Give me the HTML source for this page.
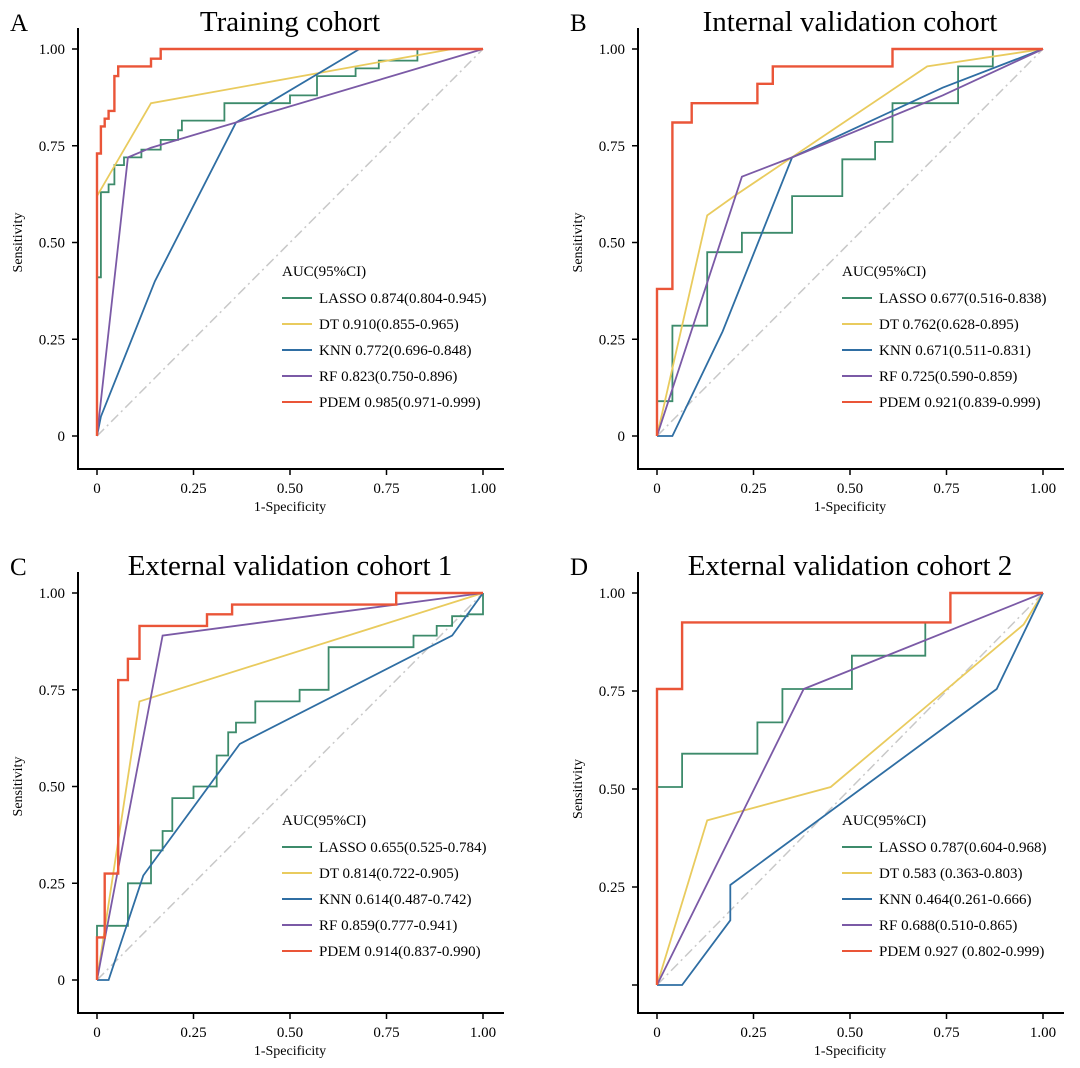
<!DOCTYPE html>
<html><head><meta charset="utf-8">
<style>
html,body{margin:0;padding:0;background:#fff;}
svg{display:block;font-family:"Liberation Serif",serif;}
</style></head>
<body>
<svg id="chart" width="1080" height="1068" viewBox="0 0 1080 1068" xmlns="http://www.w3.org/2000/svg"></svg>
<script>
const xTicks=[0,0.25,0.5,0.75,1];
const xTickLabels=["0","0.25","0.50","0.75","1.00"];
const yTicks=[0,0.25,0.5,0.75,1];
const yTickLabels=["0","0.25","0.50","0.75","1.00"];
const yTickLabelsD=["","0.25","0.50","0.75","1.00"];
const seriesNames=["LASSO","DT","KNN","RF","PDEM"];
const seriesColors=["#3d8b6b","#e9cb5e","#2f6ea3","#7b5aa6","#ea5538"];
const panelTitles=["Training cohort","Internal validation cohort","External validation cohort 1","External validation cohort 2"];
const panelLetters=["A","B","C","D"];
const legendA=["LASSO 0.874(0.804-0.945)","DT 0.910(0.855-0.965)","KNN 0.772(0.696-0.848)","RF 0.823(0.750-0.896)","PDEM 0.985(0.971-0.999)"];
const legendB=["LASSO 0.677(0.516-0.838)","DT 0.762(0.628-0.895)","KNN 0.671(0.511-0.831)","RF 0.725(0.590-0.859)","PDEM  0.921(0.839-0.999)"];
const legendC=["LASSO 0.655(0.525-0.784)","DT 0.814(0.722-0.905)","KNN 0.614(0.487-0.742)","RF 0.859(0.777-0.941)","PDEM  0.914(0.837-0.990)"];
const legendD=["LASSO 0.787(0.604-0.968)","DT 0.583 (0.363-0.803)","KNN 0.464(0.261-0.666)","RF 0.688(0.510-0.865)","PDEM  0.927 (0.802-0.999)"];

const aLASSO=[[0,0],[0,0.41],[0.01,0.41],[0.01,0.63],[0.03,0.63],[0.03,0.65],[0.045,0.65],[0.045,0.70],[0.07,0.70],[0.07,0.72],[0.115,0.72],[0.115,0.74],[0.165,0.74],[0.165,0.765],[0.21,0.765],[0.21,0.79],[0.22,0.79],[0.22,0.815],[0.33,0.815],[0.33,0.86],[0.5,0.86],[0.5,0.88],[0.57,0.88],[0.57,0.93],[0.67,0.93],[0.67,0.95],[0.73,0.95],[0.73,0.97],[0.83,0.97],[0.83,1],[1,1]];
const aDT=[[0,0],[0,0.62],[0.14,0.86],[0.92,1],[1,1]];
const aKNN=[[0,0],[0.01,0.05],[0.15,0.4],[0.36,0.81],[0.68,1],[1,1]];
const aRF=[[0,0],[0.08,0.72],[0.14,0.745],[1,1]];
const aPDEM=[[0,0],[0,0.73],[0.01,0.73],[0.01,0.8],[0.02,0.8],[0.02,0.82],[0.03,0.82],[0.03,0.84],[0.045,0.84],[0.045,0.93],[0.055,0.93],[0.055,0.955],[0.14,0.955],[0.14,0.975],[0.165,0.975],[0.165,1],[1,1]];

const bLASSO=[[0,0],[0,0.09],[0.04,0.09],[0.04,0.285],[0.13,0.285],[0.13,0.475],[0.22,0.475],[0.22,0.525],[0.35,0.525],[0.35,0.62],[0.48,0.62],[0.48,0.715],[0.565,0.715],[0.565,0.76],[0.61,0.76],[0.61,0.86],[0.78,0.86],[0.78,0.955],[0.87,0.955],[0.87,1],[1,1]];
const bDT=[[0,0],[0.13,0.57],[0.2,0.62],[0.7,0.955],[1,1]];
const bKNN=[[0,0],[0.04,0],[0.17,0.27],[0.35,0.72],[0.74,0.90],[1,1]];
const bRF=[[0,0],[0.22,0.67],[0.35,0.72],[0.74,0.88],[1,1]];
const bPDEM=[[0,0],[0,0.38],[0.04,0.38],[0.04,0.81],[0.09,0.81],[0.09,0.86],[0.26,0.86],[0.26,0.91],[0.30,0.91],[0.30,0.955],[0.61,0.955],[0.61,1],[1,1]];

const cLASSO=[[0,0],[0,0.14],[0.08,0.14],[0.08,0.25],[0.14,0.25],[0.14,0.335],[0.17,0.335],[0.17,0.385],[0.195,0.385],[0.195,0.47],[0.25,0.47],[0.25,0.5],[0.31,0.5],[0.31,0.58],[0.34,0.58],[0.34,0.64],[0.36,0.64],[0.36,0.665],[0.41,0.665],[0.41,0.72],[0.525,0.72],[0.525,0.75],[0.6,0.75],[0.6,0.86],[0.82,0.86],[0.82,0.89],[0.88,0.89],[0.88,0.915],[0.92,0.915],[0.92,0.94],[0.96,0.94],[0.96,0.945],[1,0.945],[1,1]];
const cDT=[[0,0],[0.11,0.72],[1,1]];
const cKNN=[[0,0],[0.03,0],[0.12,0.27],[0.37,0.61],[0.92,0.89],[1,1]];
const cRF=[[0,0],[0.17,0.89],[1,1]];
const cPDEM=[[0,0],[0,0.11],[0.02,0.11],[0.02,0.275],[0.055,0.275],[0.055,0.775],[0.08,0.775],[0.08,0.83],[0.11,0.83],[0.11,0.915],[0.285,0.915],[0.285,0.945],[0.35,0.945],[0.35,0.97],[0.775,0.97],[0.775,1],[1,1]];

const dLASSO=[[0,0],[0,0.505],[0.065,0.505],[0.065,0.59],[0.26,0.59],[0.26,0.67],[0.325,0.67],[0.325,0.755],[0.505,0.755],[0.505,0.84],[0.695,0.84],[0.695,0.925],[0.76,0.925],[0.76,1],[1,1]];
const dDT=[[0,0],[0.13,0.42],[0.45,0.505],[0.95,0.92],[1,1]];
const dKNN=[[0,0],[0.065,0],[0.19,0.165],[0.19,0.255],[0.88,0.755],[1,1]];
const dRF=[[0,0],[0.38,0.755],[1,1]];
const dPDEM=[[0,0],[0,0.755],[0.065,0.755],[0.065,0.925],[0.76,0.925],[0.76,1],[1,1]];

const panelSeries=[[aLASSO,aDT,aKNN,aRF,aPDEM],[bLASSO,bDT,bKNN,bRF,bPDEM],[cLASSO,cDT,cKNN,cRF,cPDEM],[dLASSO,dDT,dKNN,dRF,dPDEM]];
const panelLegends=[legendA,legendB,legendC,legendD];

const NS="http://www.w3.org/2000/svg";
const svg=document.getElementById('chart');
const offs=[[0,0],[560,0],[0,544],[560,544]];
function mk(tag,attrs,parent){const e=document.createElementNS(NS,tag);for(const k in attrs)e.setAttribute(k,attrs[k]);parent.appendChild(e);return e;}

for(let p=0;p<4;p++){
  const [ox,oy]=offs[p];
  const g=mk('g',{transform:`translate(${ox},${oy})`},svg);
  
  
  const x0=97,x1=483,y0=p==3?441:436,y1=49;
  const sx=v=>x0+v*(x1-x0), sy=v=>y0-v*(y0-y1);
  const letter=mk('text',{x:10,y:31,'font-size':25},g);letter.textContent=panelLetters[p];
  
  
  const title=mk('text',{x:290,y:31,'font-size':29,'text-anchor':'middle'},g);title.textContent=panelTitles[p];
  
  
  const axB=469;
  const ax=mk('path',{d:`M78,28 V${axB} H504`,fill:'none',stroke:'#000','stroke-width':2},g);
  
  
  const labs=p==3?yTickLabelsD:yTickLabels;
  yTicks.forEach((t,i)=>{
    mk('line',{x1:72,x2:78,y1:sy(t),y2:sy(t),stroke:'#000','stroke-width':1.5},g);
    const tl=mk('text',{x:65,y:sy(t)+5,'font-size':15,'text-anchor':'end'},g);tl.textContent=labs[i];
    
    
  });
  xTicks.forEach((t,i)=>{
    mk('line',{x1:sx(t),x2:sx(t),y1:axB,y2:axB+6,stroke:'#000','stroke-width':1.5},g);
    const tl=mk('text',{x:sx(t),y:axB+24,'font-size':15,'text-anchor':'middle'},g);tl.textContent=xTickLabels[i];
    
    
  });
  const xt=mk('text',{x:290,y:axB+42,'font-size':14,'text-anchor':'middle'},g);xt.textContent='1-Specificity';
  
  
  const yt=mk('text',{x:0,y:0,'font-size':14,'text-anchor':'middle',transform:`translate(22,${(y0+y1)/2}) rotate(-90)`},g);yt.textContent='Sensitivity';
  
  
  const dg=mk('line',{x1:sx(0),y1:sy(0),x2:sx(1),y2:sy(1),stroke:'#c8c8c8','stroke-width':1.5,'stroke-dasharray':'10,4,2,4'},g);
  
  
  panelSeries[p].forEach((s,i)=>{
    const d=s.map((pt,j)=>(j?'L':'M')+sx(pt[0]).toFixed(1)+','+sy(pt[1]).toFixed(1)).join(' ');
    const ln=mk('path',{d:d,fill:'none',stroke:seriesColors[i],'stroke-width':i==4?2.4:1.8},g);
    
    
  });
  const ly=p>=2?276:271;
  const lt=mk('text',{x:282,y:ly+5,'font-size':15},g);lt.textContent='AUC(95%CI)';
  
  
  panelLegends[p].forEach((t,i)=>{
    const yy=ly+26*(i+1)+1;
    mk('line',{x1:282,x2:312,y1:yy,y2:yy,stroke:seriesColors[i],'stroke-width':2},g);
    const tx=mk('text',{x:319,y:yy+5,'font-size':15,'xml:space':'preserve'},g);tx.textContent=t;
    
    
  });
}
</script>
</body></html>
